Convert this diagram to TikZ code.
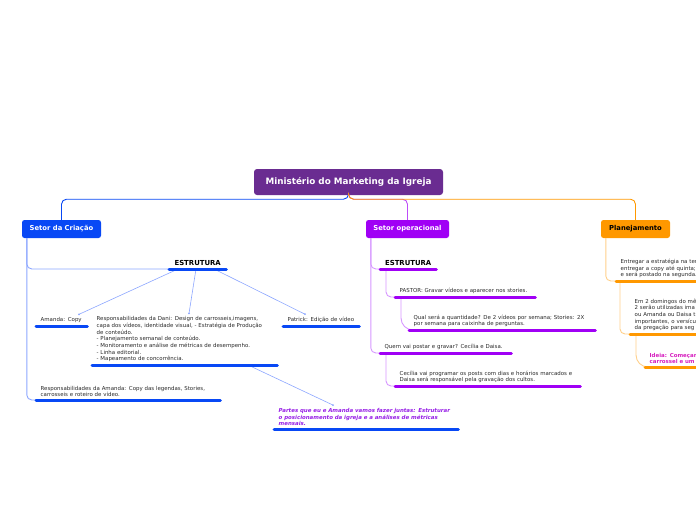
\documentclass[tikz,border=0pt]{standalone}
\usepackage{fontspec}
\setmainfont{DejaVu Sans}
\usepackage{tikz}
\definecolor{rootpurple}{RGB}{106,44,145}
\definecolor{crblue}{RGB}{8,72,245}
\definecolor{crlight}{RGB}{140,166,255}
\definecolor{oppurple}{RGB}{160,0,245}
\definecolor{oplight}{RGB}{214,150,255}
\definecolor{planorange}{RGB}{255,152,0}
\definecolor{planlight}{RGB}{255,208,138}
\definecolor{bodytext}{RGB}{40,40,40}
\definecolor{ideiapink}{RGB}{214,30,190}
\definecolor{partespurple}{RGB}{150,30,230}

\begin{document}
\begin{tikzpicture}[x=1pt, y=-1pt,
    root/.style={rectangle, rounded corners=3pt, fill=rootpurple, text=white, font=\fontsize{8.8}{10}\selectfont\bfseries, minimum width=189pt, minimum height=26pt},
    main/.style={rectangle, rounded corners=2.5pt, fill=#1, text=white, font=\fontsize{6.8}{8}\selectfont\bfseries, minimum height=18pt},
    topic/.style={anchor=south west, inner xsep=4.5pt, inner ysep=3pt, align=left, text=bodytext, font=\fontsize{5.45}{6.65}\selectfont},
    estrut/.style={anchor=south west, inner sep=3pt, align=center, font=\fontsize{6.9}{8}\selectfont\bfseries},
    uline/.style={line width=3pt, line cap=round, draw=#1},
    link/.style={draw=#1, line width=0.9pt, rounded corners=5pt},
    spoke/.style={draw=crlight, line width=0.6pt},
    enddot/.style={circle, fill=crlight, inner sep=0pt, minimum size=2pt}]

\useasboundingbox (0,0) rectangle (696,520);
\clip (0,0) rectangle (696,520);

\node [root] (root) at (348.5,182) {Ministério do Marketing da Igreja};
\node [main=crblue, minimum width=79pt] (crC) at (61.5,229) {Setor da Criação};
\node [main=oppurple, minimum width=83pt] (op) at (407.5,229) {Setor operacional};
\node [main=planorange, minimum width=69pt, text=black] (plan) at (635.5,229) {Planejamento};

\draw [link=crblue] (root.south) -- ++(0,4) -| (crC.north);
\draw [link=oppurple!70] (root.south) -- ++(0,4) -| (op.north);
\draw [link=planorange] (root.south) -- ++(0,4) -| (plan.north);

% Setor da Criacao
\node [estrut, minimum width=57pt] (estrC) at (169,269) {ESTRUTURA};
\node [topic, text width=42pt] (amanda) at (36,326) {Amanda: Copy};
\node [topic, text width=176pt] (dani) at (92,365) {Responsabilidades da Dani: Design de carrosseis,imagens,\\capa dos vídeos, identidade visual, - Estratégia de Produção\\de conteúdo.\\- Planejamento semanal de conteúdo.\\- Monitoramento e análise de métricas de desempenho.\\- Linha editorial.\\- Mapeamento de concorrência.};
\node [topic, text width=67pt] (patrick) at (283,326) {Patrick: Edição de vídeo};
\node [topic, text width=175pt] (respA) at (36,400) {Responsabilidades da Amanda: Copy das legendas, Stories,\\carrosseis e roteiro de vídeo.};
\node [topic, text width=175pt, text=partespurple, font=\fontsize{5.45}{6.65}\selectfont\bfseries\itshape] (partes) at (274,429) {Partes que eu e Amanda vamos fazer juntas: Estruturar\\o posicionamento da igreja e a análises de métricas\\mensais.};

\draw [link=crlight] ([xshift=5pt]crC.south west) |- (estrC.south west);
\draw [link=crlight] ([xshift=5pt]crC.south west) |- (respA.south west);
\draw [spoke] ([xshift=9pt]estrC.south west) -- ([xshift=43pt]amanda.north west) node [enddot] {};
\draw [spoke] ([xshift=27pt]estrC.south west) -- ([xshift=97pt]dani.north west) node [enddot] {};
\draw [spoke] ([xshift=45pt]estrC.south west) -- ([xshift=22pt]patrick.north west) node [enddot] {};
\draw [spoke] ([xshift=156pt]dani.south west) -- ([xshift=59pt]partes.north west) node [enddot] {};

\foreach \n in {estrC,amanda,dani,patrick,respA,partes}
  \draw [uline=crblue] (\n.south west) -- (\n.south east);

% Setor operacional
\node [estrut, minimum width=56pt] (estrO) at (380,269) {ESTRUTURA};
\node [topic, text width=131pt] (pastor) at (395,297) {PASTOR: Gravar vídeos e aparecer nos stories.};
\node [topic, text width=177pt] (qual) at (409,330) {Qual será a quantidade? De 2 vídeos por semana; Stories: 2X\\por semana para caixinha de perguntas.};
\node [topic, text width=122pt] (quem) at (380,353) {Quem vai postar e gravar? Cecília e Daisa.};
\node [topic, text width=176pt] (cecilia) at (395,386) {Cecília vai programar os posts com dias e horários marcados e\\Daisa será responsável pela gravação dos cultos.};

\draw [link=oplight] ([xshift=5pt]op.south west) |- (estrO.south west);
\draw [link=oplight] ([xshift=5pt]op.south west) |- (quem.south west);
\draw [link=oplight] ([xshift=6pt]estrO.south west) |- (pastor.south west);
\draw [link=oplight, rounded corners=12pt] ([xshift=6pt]pastor.south west) |- (qual.south west);
\draw [link=oplight] ([xshift=6pt]quem.south west) |- (cecilia.south west);

\foreach \n in {estrO,pastor,qual,quem,cecilia}
  \draw [uline=oppurple] (\n.south west) -- (\n.south east);

% Planejamento
\node [topic, text width=100pt] (entregar) at (616,281) {Entregar a estratégia na ter\\entregar a copy até quinta;\\e será postado na segunda.};
\node [topic, text width=100pt] (domingos) at (630,334) {Em 2 domingos do mê\\2 serão utilizadas ima\\ou Amanda ou Daisa t\\importantes, o versícu\\da pregação para seg};
\node [topic, text width=100pt, text=ideiapink, font=\fontsize{5.45}{6.65}\selectfont\bfseries] (ideia) at (645,367) {Ideia: Começar\\carrossel e um};

\draw [link=planlight] ([xshift=5pt]plan.south west) |- (entregar.south west);
\draw [link=planlight] ([xshift=4pt]entregar.south west) |- (domingos.south west);
\draw [link=planlight, rounded corners=12pt] ([xshift=6pt]domingos.south west) |- (ideia.south west);

\foreach \n in {entregar,domingos,ideia}
  \draw [uline=planorange] (\n.south west) -- (\n.south east);

\end{tikzpicture}
\end{document}
